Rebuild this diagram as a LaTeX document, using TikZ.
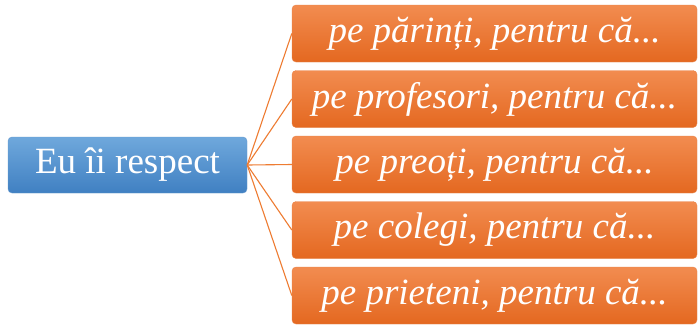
\documentclass[tikz,border=0pt]{standalone}
\usepackage{fontspec}
\setmainfont{Liberation Serif}
\usepackage{tikz}

\tikzset{
  mainbox/.style={rounded corners=4pt,top color=blueTop,bottom color=blueBot,
    draw=blueBot!80!white,line width=0.4pt,text=white,inner sep=0pt,
    minimum width=239,minimum height=56,font=\fontsize{37}{40}\selectfont},
  reasonbox/.style={rounded corners=4pt,top color=orangeTop,bottom color=orangeBot,
    draw=orangeBot!80!white,line width=0.4pt,text=white,inner sep=0pt,
    minimum width=405,minimum height=57,font=\fontsize{37}{40}\selectfont\itshape},
  branch/.style={draw=lineColor,line width=1.1pt}
}

\begin{document}
\begin{tikzpicture}[x=1pt,y=-1pt]
\definecolor{blueTop}{RGB}{111,168,220}
\definecolor{blueBot}{RGB}{64,128,194}
\definecolor{orangeTop}{RGB}{242,140,80}
\definecolor{orangeBot}{RGB}{228,104,32}
\definecolor{lineColor}{RGB}{238,124,50}
\path[use as bounding box,fill=white] (0,0) rectangle (698,325);

\node[mainbox] (eu) at (127.5,165) {Eu îi respect};

\node[reasonbox] (parinti) at (494.5,33.5) {pe părinți, pentru că...};
\node[reasonbox] (profesori) at (494.5,99) {pe profesori, pentru că...};
\node[reasonbox] (preoti) at (494.5,164.5) {pe preoți, pentru că...};
\node[reasonbox] (colegi) at (494.5,230) {pe colegi, pentru că...};
\node[reasonbox] (prieteni) at (494.5,295.5) {pe prieteni, pentru că...};

\foreach \n in {parinti,profesori,preoti,colegi,prieteni}
  \draw[branch] (eu.east) -- (\n.west);
\end{tikzpicture}
\end{document}
